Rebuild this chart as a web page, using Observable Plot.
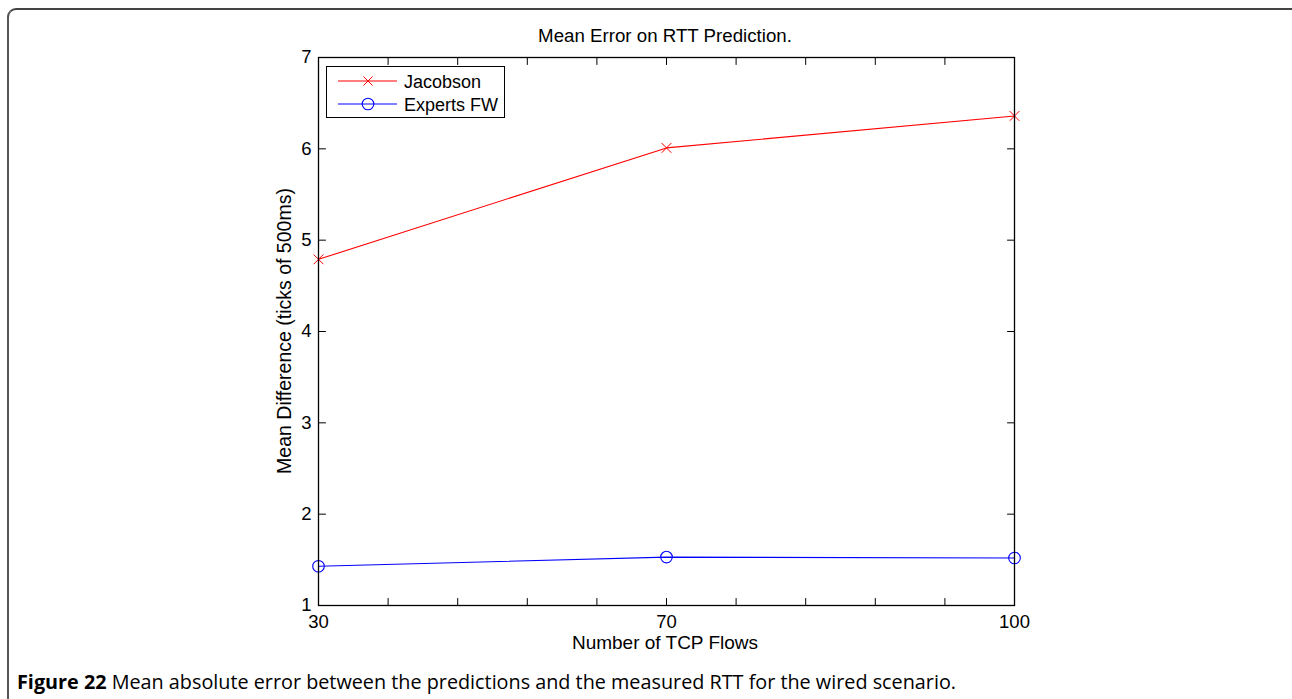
<!DOCTYPE html>
<html>
<head>
<meta charset="utf-8">
<script src="https://cdn.jsdelivr.net/npm/d3@7"></script>
<script src="https://cdn.jsdelivr.net/npm/@observablehq/plot@0.6"></script>
<style>
  html, body { margin: 0; padding: 0; background: #fff; }
  body { width: 1292px; height: 699px; position: relative; overflow: hidden; font-family: "Liberation Sans", Arial, Helvetica, sans-serif; }
  #frame { position: absolute; left: 7px; top: 8px; width: 1300px; height: 720px; border-left: 2px solid #555; border-top: 2px solid #444; border-top-left-radius: 9px; box-sizing: border-box; }
  #chart { position: absolute; left: 0; top: 0; }
  #legend { position: absolute; left: 0; top: 0; }
  #caption { position: absolute; left: 0; top: 660px; }
</style>
</head>
<body>
<div id="frame"></div>
<div id="chart"></div>
<svg id="legend" width="1292" height="140"></svg>
<svg id="caption" width="1292" height="39"></svg>
<script>
// ---- data ----
const flowLabels = ["30", "70", "100"];
const flowIndex = [0, 1, 2];
const jacobson = [4.79, 6.01, 6.36];
const expertsFW = [1.43, 1.53, 1.52];
const seriesNames = ["Jacobson", "Experts FW"];
const seriesColors = ["#ff0000", "#0000ff"];
const yTicks = [1, 2, 3, 4, 5, 6, 7];
const xMinorTicks = [0, 0.2, 0.4, 0.6, 0.8, 1, 1.2, 1.4, 1.6, 1.8, 2];
const titleText = "Mean Error on RTT Prediction.";
const xLabel = "Number of TCP Flows";
const yLabel = "Mean Difference (ticks of 500ms)";

const rows = [
  ...flowIndex.map((i, k) => ({i, v: jacobson[k], s: seriesNames[0]})),
  ...flowIndex.map((i, k) => ({i, v: expertsFW[k], s: seriesNames[1]}))
];

const tickShape = {draw(ctx, l) { ctx.moveTo(0, 0); ctx.lineTo(0, -l); }};
const font = "'Liberation Sans', Arial, Helvetica, sans-serif";

const plot = Plot.plot({
  width: 1292,
  height: 660,
  marginLeft: 318,
  marginRight: 278,
  marginTop: 57,
  marginBottom: 55,
  style: {fontFamily: font, fontSize: "18.5px", color: "#000", background: "transparent", overflow: "visible"},
  x: {domain: [0, 2]},
  y: {domain: [1, 7]},
  color: {domain: seriesNames, range: seriesColors},
  marks: [
    Plot.axisX({ticks: flowIndex, tickFormat: i => flowLabels[i], tickSize: 0, tickPadding: 9, label: null, fontSize: 18.5}),
    Plot.axisY({ticks: yTicks, tickFormat: d => String(d), tickSize: 0, tickPadding: 7, label: null, fontSize: 18.5}),
    // inward ticks on all four sides
    Plot.vector(xMinorTicks, {x: d => d, frameAnchor: "bottom", length: 7, rotate: 0, anchor: "start", shape: tickShape, stroke: "#000", strokeWidth: 1}),
    Plot.vector(xMinorTicks, {x: d => d, frameAnchor: "top", length: 7, rotate: 180, anchor: "start", shape: tickShape, stroke: "#000", strokeWidth: 1}),
    Plot.vector(yTicks, {y: d => d, frameAnchor: "left", length: 7, rotate: 90, anchor: "start", shape: tickShape, stroke: "#000", strokeWidth: 1}),
    Plot.vector(yTicks, {y: d => d, frameAnchor: "right", length: 7, rotate: 270, anchor: "start", shape: tickShape, stroke: "#000", strokeWidth: 1}),
    Plot.line(rows, {x: "i", y: "v", stroke: "s", z: "s", strokeWidth: 1.1}),
    Plot.dot(rows.filter(d => d.s === seriesNames[0]), {x: "i", y: "v", stroke: "s", symbol: "times", r: 4.5, strokeWidth: 1}),
    Plot.dot(rows.filter(d => d.s === seriesNames[1]), {x: "i", y: "v", stroke: "s", symbol: "circle", r: 5.8, fill: "none", strokeWidth: 1.1}),
    Plot.frame({stroke: "#000", strokeWidth: 1.3})
  ]
});
document.getElementById("chart").appendChild(plot);

// titles & axis labels
const svg = d3.select(plot);
svg.append("text").attr("x", 665).attr("y", 42).attr("text-anchor", "middle")
  .attr("font-family", font).attr("font-size", 18.7).attr("fill", "#000").text(titleText);
svg.append("text").attr("x", 665).attr("y", 649).attr("text-anchor", "middle")
  .attr("font-family", font).attr("font-size", 19).attr("fill", "#000").text(xLabel);
svg.append("text").attr("transform", "translate(290.5,331) rotate(-90)").attr("text-anchor", "middle")
  .attr("font-family", font).attr("font-size", 19.5).attr("fill", "#000").text(yLabel);

// legend
const lg = d3.select("#legend");
lg.append("rect").attr("x", 326.5).attr("y", 66.5).attr("width", 178).attr("height", 51)
  .attr("fill", "#fff").attr("stroke", "#000").attr("stroke-width", 1);
seriesNames.forEach((name, k) => {
  const cy = 81 + k * 23;
  lg.append("line").attr("x1", 338).attr("x2", 397).attr("y1", cy).attr("y2", cy)
    .attr("stroke", seriesColors[k]).attr("stroke-width", 1.1);
  if (k === 0) {
    lg.append("path").attr("d", `M${368-4.5},${cy-4.5}L${368+4.5},${cy+4.5}M${368-4.5},${cy+4.5}L${368+4.5},${cy-4.5}`)
      .attr("stroke", seriesColors[k]).attr("fill", "none");
  } else {
    lg.append("circle").attr("cx", 368).attr("cy", cy).attr("r", 5.8)
      .attr("stroke", seriesColors[k]).attr("fill", "none").attr("stroke-width", 1.1);
  }
  lg.append("text").attr("x", 404).attr("y", cy + 6.5).attr("font-family", font)
    .attr("font-size", 18).attr("fill", "#000").text(name);
});

// caption
const cap = d3.select("#caption");
const t = cap.append("text").attr("x", 17).attr("y", 29)
  .attr("font-family", "'Open Sans', 'Noto Sans', sans-serif").attr("font-size", 19.5).attr("fill", "#000")
  .attr("textLength", 939).attr("lengthAdjust", "spacingAndGlyphs");
t.append("tspan").attr("font-weight", 700).text("Figure 22");
t.append("tspan").attr("font-weight", 500).text(" Mean absolute error between the predictions and the measured RTT for the wired scenario.");
</script>
</body>
</html>
